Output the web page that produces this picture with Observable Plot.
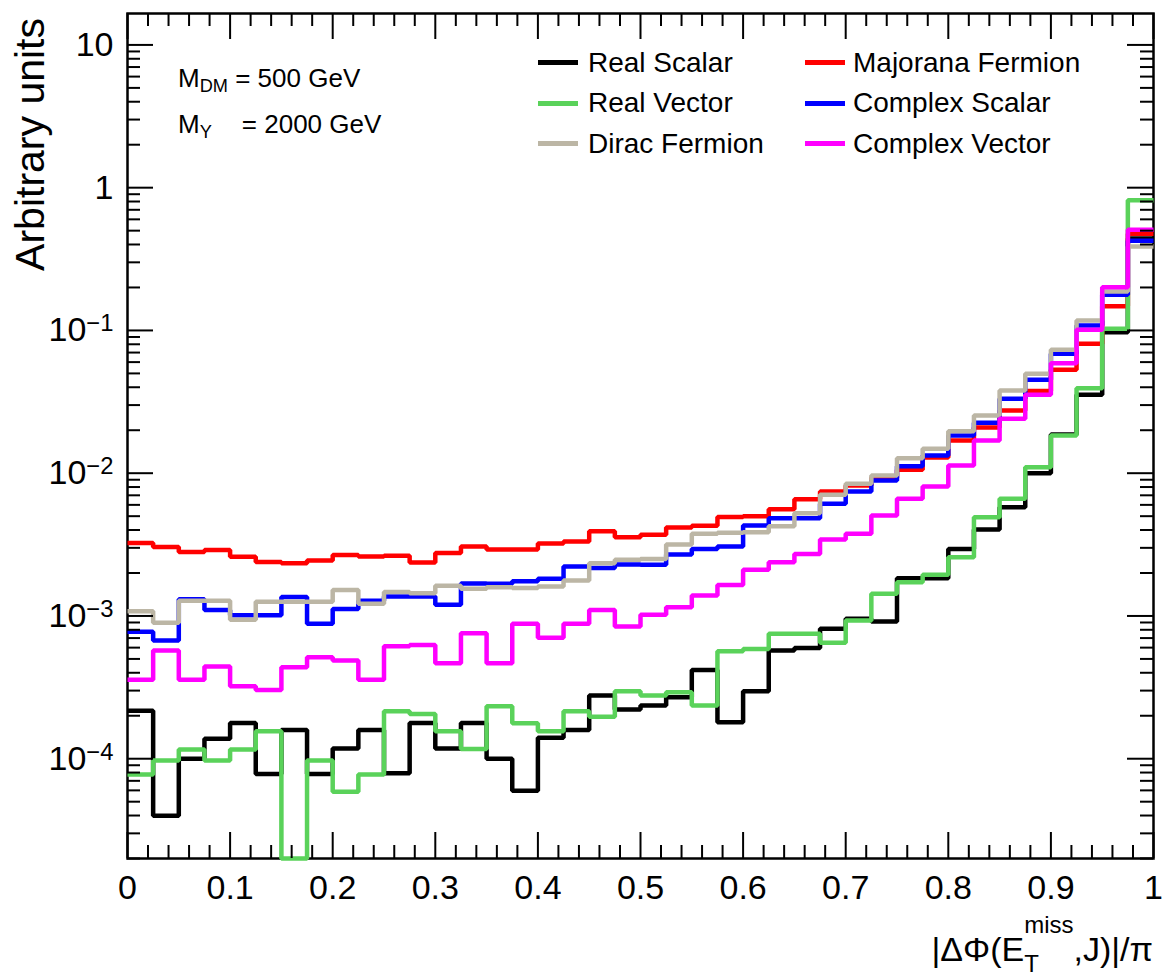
<!DOCTYPE html>
<html>
<head>
<meta charset="utf-8">
<title>|ΔΦ(E_T^miss, J)|/π for dark matter spin hypotheses</title>
<script src="https://cdn.jsdelivr.net/npm/d3@7"></script>
<script src="https://cdn.jsdelivr.net/npm/@observablehq/plot@0.6"></script>
<style>
  html, body { margin: 0; padding: 0; background: #fff; }
  #figure { position: relative; width: 1163px; height: 975px; overflow: hidden;
    font-family: "Liberation Sans", Arial, Helvetica, sans-serif; color: #000; }
  #figure svg { position: absolute; left: 0; top: 0; }
  .txt { position: absolute; white-space: nowrap; line-height: 1; }
  .sub { font-size: 0.7em; position: relative; top: 0.3em; }
  .legend-row { position: absolute; display: flex; align-items: center; white-space: nowrap;
    font-size: 28px; line-height: 1; height: 28px; }
  .legend-line { width: 40px; height: 5px; margin-right: 10px; }
  .ytitle { position: absolute; writing-mode: vertical-rl; transform: rotate(180deg);
    white-space: nowrap; line-height: 1; }
</style>
</head>
<body>
<div id="figure"></div>
<script>
// Histogram content: 40 equal bins of |ΔΦ|/π between 0 and 1
const binCount = 40;
const xRange = [0, 1];

const realScalar = [
  2.17e-4, 3.99e-5, 1.00e-4, 1.38e-4, 1.78e-4, 7.8e-5, 1.59e-4, 7.8e-5, 1.18e-4, 1.59e-4,
  7.9e-5, 1.78e-4, 1.18e-4, 1.78e-4, 1.00e-4, 5.97e-5, 1.40e-4, 1.59e-4, 2.77e-4, 2.21e-4,
  2.36e-4, 2.69e-4, 4.19e-4, 1.80e-4, 2.97e-4, 5.72e-4, 5.97e-4, 8.12e-4, 9.55e-4, 9.14e-4,
  1.84e-3, 1.84e-3, 2.95e-3, 4.03e-3, 5.78e-3, 1.00e-2, 1.87e-2, 3.54e-2, 9.73e-2, 0.44
];
const majoranaFermion = [
  3.25e-3, 3.04e-3, 2.81e-3, 2.90e-3, 2.60e-3, 2.39e-3, 2.34e-3, 2.45e-3, 2.67e-3, 2.61e-3,
  2.64e-3, 2.37e-3, 2.76e-3, 3.06e-3, 2.92e-3, 2.92e-3, 3.22e-3, 3.32e-3, 3.92e-3, 3.56e-3,
  3.70e-3, 4.17e-3, 4.29e-3, 4.93e-3, 5.00e-3, 5.60e-3, 6.58e-3, 7.45e-3, 8.2e-3, 9.3e-3,
  1.057e-2, 1.29e-2, 1.695e-2, 2.09e-2, 2.75e-2, 3.76e-2, 5.30e-2, 8.07e-2, 0.148, 0.476
];
const realVector = [
  7.74e-5, 9.7e-5, 1.16e-4, 9.7e-5, 1.16e-4, 1.56e-4, 1.0e-5, 9.7e-5, 5.88e-5, 7.75e-5,
  2.15e-4, 2.06e-4, 1.56e-4, 1.17e-4, 2.33e-4, 1.77e-4, 1.56e-4, 2.15e-4, 1.97e-4, 2.97e-4,
  2.77e-4, 2.92e-4, 2.36e-4, 5.66e-4, 5.88e-4, 7.50e-4, 7.50e-4, 6.48e-4, 9.29e-4, 1.43e-3,
  1.72e-3, 1.94e-3, 2.58e-3, 4.92e-3, 6.62e-3, 1.101e-2, 1.84e-2, 3.94e-2, 0.1028, 0.815
];
const complexScalar = [
  7.74e-4, 6.73e-4, 1.31e-3, 1.10e-3, 1.01e-3, 1.01e-3, 1.36e-3, 8.81e-4, 1.12e-3, 1.28e-3,
  1.37e-3, 1.37e-3, 1.20e-3, 1.69e-3, 1.68e-3, 1.75e-3, 1.82e-3, 2.22e-3, 2.17e-3, 2.29e-3,
  2.28e-3, 2.69e-3, 2.95e-3, 3.06e-3, 4.30e-3, 4.84e-3, 4.84e-3, 6.10e-3, 7.45e-3, 8.89e-3,
  1.119e-2, 1.331e-2, 1.838e-2, 2.255e-2, 3.32e-2, 4.51e-2, 6.87e-2, 0.1084, 0.178, 0.425
];
const diracFermion = [
  1.08e-3, 8.95e-4, 1.28e-3, 1.28e-3, 9.40e-4, 1.26e-3, 1.26e-3, 1.26e-3, 1.52e-3, 1.22e-3,
  1.47e-3, 1.44e-3, 1.63e-3, 1.55e-3, 1.59e-3, 1.57e-3, 1.61e-3, 1.77e-3, 2.34e-3, 2.48e-3,
  2.51e-3, 3.16e-3, 3.76e-3, 3.82e-3, 3.86e-3, 4.25e-3, 5.25e-3, 7.06e-3, 8.43e-3, 9.64e-3,
  1.274e-2, 1.483e-2, 1.969e-2, 2.537e-2, 3.80e-2, 4.97e-2, 7.32e-2, 0.1175, 0.1876, 0.388
];
const complexVector = [
  3.57e-4, 5.72e-4, 3.57e-4, 4.42e-4, 3.22e-4, 3.03e-4, 4.37e-4, 5.14e-4, 4.87e-4, 3.57e-4,
  6.13e-4, 6.27e-4, 4.66e-4, 7.56e-4, 4.66e-4, 8.81e-4, 7.03e-4, 8.81e-4, 1.10e-3, 8.43e-4,
  1.02e-3, 1.15e-3, 1.39e-3, 1.65e-3, 2.11e-3, 2.38e-3, 2.72e-3, 3.43e-3, 3.76e-3, 5.06e-3,
  6.62e-3, 8.07e-3, 1.132e-2, 1.695e-2, 2.41e-2, 3.54e-2, 5.90e-2, 0.1011, 0.201, 0.508
];

// Drawing order (later series sit on top) and legend order, filled row by row
const seriesNames = ["Real Scalar", "Majorana Fermion", "Real Vector", "Complex Scalar", "Dirac Fermion", "Complex Vector"];
const seriesColors = ["#000000", "#ff0000", "#5ad25a", "#0000ff", "#bcb6a5", "#ff00ff"];
const seriesValues = [realScalar, majoranaFermion, realVector, complexScalar, diracFermion, complexVector];

const xTickLabels = ["0", "0.1", "0.2", "0.3", "0.4", "0.5", "0.6", "0.7", "0.8", "0.9", "1"];
const yTickValues = [1e-4, 1e-3, 1e-2, 1e-1, 1, 10];
const yTickLabels = ["10^−4", "10^−3", "10^−2", "10^−1", "1", "10"];
const yDomain = [2e-5, 16.6];

const massLines = [["M", "DM", " = 500 GeV"], ["M", "Y", "= 2000 GeV"]];
// x title pieces: lead, subscript, superscript, tail
const xTitleParts = ["|ΔΦ(E", "T", "miss", ",J)|/π"];
const yTitle = "Arbitrary units";

// ---- layout ----
const width = 1163, height = 975;
const margin = {top: 13, right: 10, bottom: 117, left: 127};
const frameW = width - margin.left - margin.right;
const frameH = height - margin.top - margin.bottom;
const majorLen = 26, minorLen = 13;
const fontStack = '"Liberation Sans", Arial, Helvetica, sans-serif';

// step outline: each bin edge carries the content of the bin it opens; the last edge repeats the last bin
const edges = d3.range(binCount + 1).map(i => xRange[0] + (xRange[1] - xRange[0]) * i / binCount);
const histRows = seriesNames.flatMap((name, s) =>
  edges.map((x, i) => ({name, x, v: seriesValues[s][Math.min(i, binCount - 1)]})));

const xMajor = xTickLabels.map(Number);
const xMinor = d3.range(0, 51).map(i => i / 50).filter(v => !xMajor.some(m => Math.abs(m - v) < 1e-9));
const yMinor = d3.range(-5, 2)
  .flatMap(e => d3.range(2, 10).map(m => m * Math.pow(10, e)))
  .filter(v => v >= yDomain[0] && v <= yDomain[1]);

const tickStyle = {strokeWidth: 2, stroke: "black"};

const chart = Plot.plot({
  width, height,
  marginTop: margin.top, marginRight: margin.right, marginBottom: margin.bottom, marginLeft: margin.left,
  style: {fontFamily: fontStack, fontSize: "34px", background: "white", color: "black", overflow: "visible"},
  x: {domain: xRange},
  y: {type: "log", domain: yDomain, clamp: true},
  color: {domain: seriesNames, range: seriesColors},
  marks: [
    Plot.frame({stroke: "black", strokeWidth: 2.5}),
    Plot.line(histRows, {
      x: "x", y: "v", z: "name", stroke: "name", curve: "step-after",
      strokeWidth: 4.5, strokeLinejoin: "miter", strokeLinecap: "butt"
    }),
    // inward ticks on all four sides
    Plot.tickX(xMajor, {x: d => d, insetTop: frameH - majorLen, ...tickStyle}),
    Plot.tickX(xMinor, {x: d => d, insetTop: frameH - minorLen, ...tickStyle}),
    Plot.tickX(xMajor, {x: d => d, insetBottom: frameH - majorLen, ...tickStyle}),
    Plot.tickX(xMinor, {x: d => d, insetBottom: frameH - minorLen, ...tickStyle}),
    Plot.tickY(yTickValues, {y: d => d, insetRight: frameW - majorLen, ...tickStyle}),
    Plot.tickY(yMinor, {y: d => d, insetRight: frameW - minorLen, ...tickStyle}),
    Plot.tickY(yTickValues, {y: d => d, insetLeft: frameW - majorLen, ...tickStyle}),
    Plot.tickY(yMinor, {y: d => d, insetLeft: frameW - minorLen, ...tickStyle}),
    Plot.axisX(xMajor, {
      tickSize: 0, tickPadding: 16, label: null, fontSize: 34,
      tickFormat: d => xTickLabels[xMajor.indexOf(d)]
    }),
    Plot.axisY(yTickValues, {
      tickSize: 0, tickPadding: 14, label: null, fontSize: 34,
      tickFormat: d => yTickLabels[yTickValues.indexOf(d)]
    })
  ]
});

// turn "10^−n" labels into a base with a raised exponent
d3.select(chart).selectAll('g[aria-label="y-axis tick label"] text').each(function() {
  const t = this.textContent;
  if (!t.includes("^")) return;
  const [base, power] = t.split("^");
  this.textContent = "";
  const sel = d3.select(this);
  sel.append("tspan").text(base);
  sel.append("tspan").attr("dy", "-0.42em").attr("font-size", "0.7em").text(power);
});

const fig = document.getElementById("figure");
fig.appendChild(chart);

// x-axis title, right-aligned at the frame edge; subscript and superscript stacked on E
{
  const [lead, sub, sup, tail] = xTitleParts;
  const scriptSize = 24;
  const subAdvance = 0.611 * scriptSize; // advance width of "T"
  const t = d3.select(chart).append("text")
    .attr("aria-label", "x-axis title")
    .attr("font-family", fontStack)
    .attr("font-size", 34)
    .attr("fill", "black")
    .attr("text-anchor", "end")
    .attr("x", margin.left + frameW)
    .attr("y", 961);
  t.append("tspan").text(lead);
  t.append("tspan").attr("font-size", scriptSize).attr("dy", 11).text(sub);
  t.append("tspan").attr("font-size", scriptSize).attr("dx", -subAdvance).attr("dy", -39).text(sup);
  t.append("tspan").attr("dy", 28).text(tail);
}

// legend, two columns
const legendCols = [{line: 538, text: 588}, {line: 805, text: 853}];
const legendRowY = [62.5, 103, 143.5];
seriesNames.forEach((name, s) => {
  const col = legendCols[s % 2], rowY = legendRowY[Math.floor(s / 2)];
  const row = document.createElement("div");
  row.className = "legend-row";
  row.style.left = col.line + "px";
  row.style.top = (rowY - 14) + "px";
  const sw = document.createElement("div");
  sw.className = "legend-line";
  sw.style.background = seriesColors[s];
  sw.style.marginRight = (col.text - col.line - 40) + "px";
  const label = document.createElement("span");
  label.textContent = name;
  row.append(sw, label);
  fig.appendChild(row);
});

// mass point annotation
const noteTops = [64.5, 111];
massLines.forEach(([m, sub, rest], i) => {
  const d = document.createElement("div");
  d.className = "txt";
  d.style.left = "178px";
  d.style.top = noteTops[i] + "px";
  d.style.fontSize = "26px";
  const s = document.createElement("span");
  s.className = "sub";
  s.textContent = sub;
  const pad = document.createElement("span");
  pad.style.display = "inline-block";
  pad.style.width = i === 1 ? "30px" : "0px";
  d.append(m, s, pad, rest);
  fig.appendChild(d);
});

// y-axis title
const yt = document.createElement("div");
yt.className = "ytitle";
yt.style.fontSize = "41px";
yt.style.left = "10px";
yt.style.top = "18px";
yt.textContent = yTitle;
fig.appendChild(yt);
</script>
</body>
</html>
